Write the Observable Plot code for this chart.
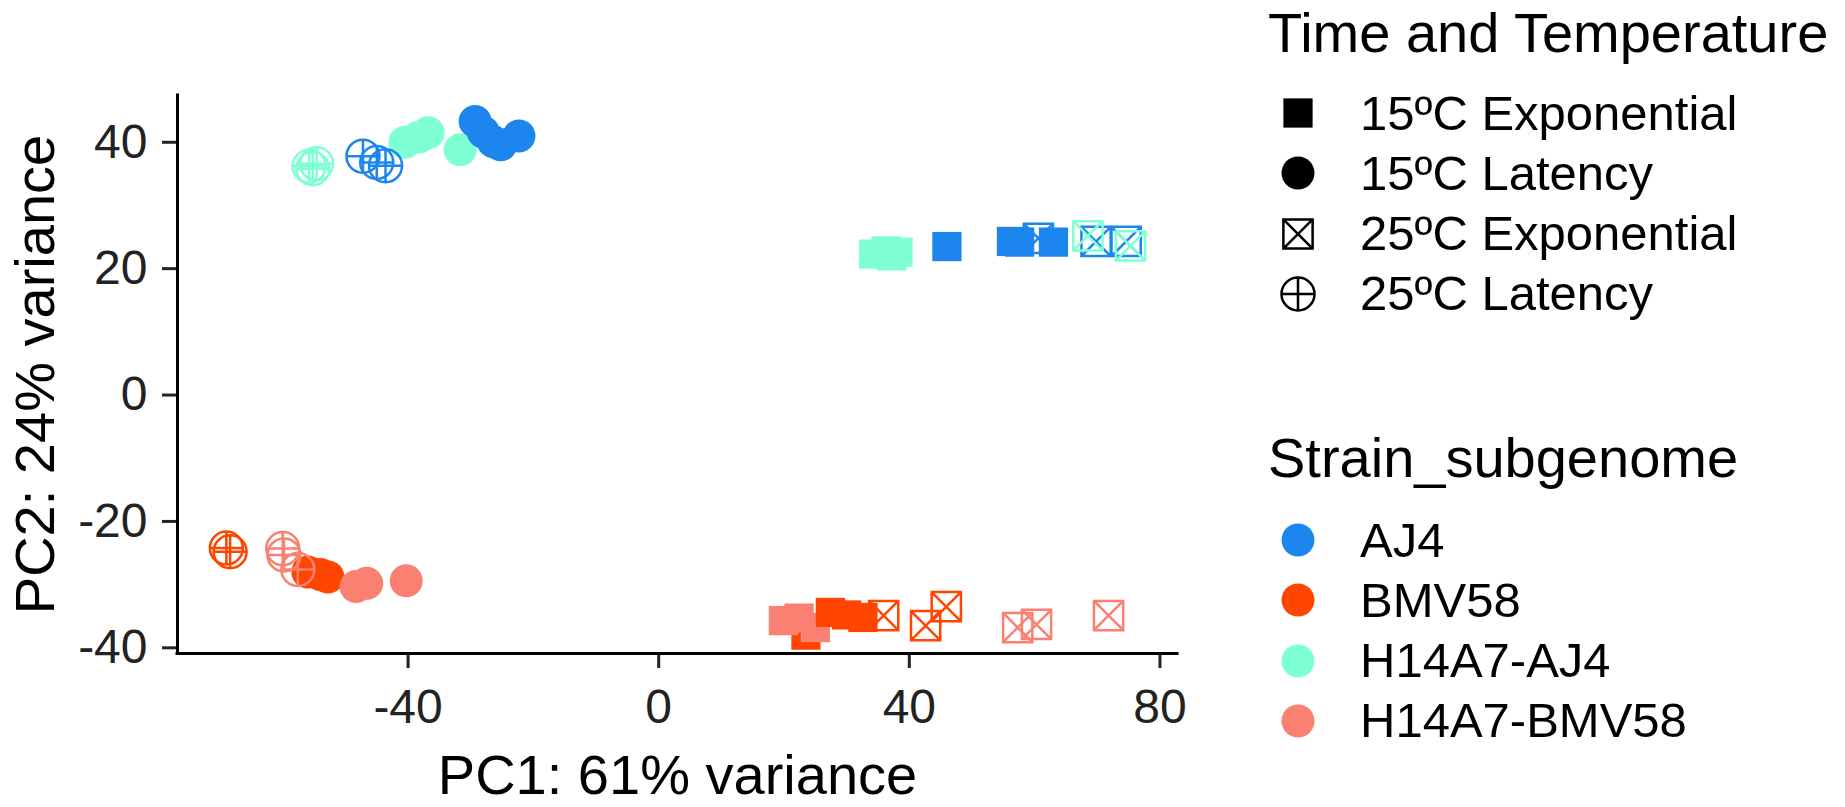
<!DOCTYPE html>
<html>
<head>
<meta charset="utf-8">
<script src="https://cdn.jsdelivr.net/npm/d3@7"></script>
<script src="https://cdn.jsdelivr.net/npm/@observablehq/plot@0.6"></script>
<style>
html, body { margin: 0; padding: 0; background: #fff; }
#wrap { position: relative; width: 1845px; height: 807px; font-family: "Liberation Sans", Arial, sans-serif; color: #000; overflow: hidden; }
#chart { position: absolute; left: 0; top: 0; }
.lg-title { position: absolute; font-size: 56px; line-height: 56px; white-space: nowrap; color: #000; }
.lg-label { position: absolute; font-size: 49px; line-height: 49px; white-space: nowrap; color: #000; }
.lg-key { position: absolute; overflow: visible; }
</style>
</head>
<body>
<div id="wrap"><div id="chart"></div></div>
<script>
// ---- categories ----
const strains = ["AJ4", "BMV58", "H14A7-AJ4", "H14A7-BMV58"];
const strainColors = ["#1C86EE", "#FF4500", "#7FFFD4", "#FA8072"];
const conditions = ["15ºC Exponential", "15ºC Latency", "25ºC Exponential", "25ºC Latency"];
const xTicks = [-40, 0, 40, 80];
const yTicks = [-40, -20, 0, 20, 40];
const xDomain = [-76.8, 82.8];
const yDomain = [-40.9, 47.4];
const xTitle = "PC1: 61% variance";
const yTitle = "PC2: 24% variance";
const shapeTitle = "Time and Temperature";
const colorTitle = "Strain_subgenome";

// ---- samples (drawing order) ----
const sampleStrain = [
  "H14A7-AJ4","H14A7-AJ4","H14A7-AJ4","H14A7-AJ4",
  "AJ4","AJ4","AJ4","AJ4","AJ4",
  "H14A7-AJ4","H14A7-AJ4","H14A7-AJ4","H14A7-AJ4",
  "AJ4","AJ4","AJ4","AJ4",
  "BMV58","BMV58","BMV58",
  "H14A7-BMV58","H14A7-BMV58","H14A7-BMV58",
  "BMV58",
  "H14A7-BMV58","H14A7-BMV58","H14A7-BMV58",
  "BMV58","BMV58","BMV58",
  "AJ4","AJ4","AJ4",
  "H14A7-AJ4","H14A7-AJ4","H14A7-AJ4",
  "AJ4","AJ4","AJ4",
  "H14A7-AJ4","H14A7-AJ4",
  "BMV58","BMV58",
  "H14A7-BMV58","H14A7-BMV58","H14A7-BMV58",
  "BMV58","BMV58","BMV58",
  "H14A7-BMV58","H14A7-BMV58","H14A7-BMV58"
];
const sampleCondition = [
  "15ºC Latency","15ºC Latency","15ºC Latency","15ºC Latency",
  "15ºC Latency","15ºC Latency","15ºC Latency","15ºC Latency","15ºC Latency",
  "15ºC Exponential","15ºC Exponential","15ºC Exponential","15ºC Exponential",
  "15ºC Exponential","15ºC Exponential","15ºC Exponential","15ºC Exponential",
  "15ºC Latency","15ºC Latency","15ºC Latency",
  "15ºC Latency","15ºC Latency","15ºC Latency",
  "15ºC Exponential",
  "15ºC Exponential","15ºC Exponential","15ºC Exponential",
  "15ºC Exponential","15ºC Exponential","15ºC Exponential",
  "25ºC Latency","25ºC Latency","25ºC Latency",
  "25ºC Latency","25ºC Latency","25ºC Latency",
  "25ºC Exponential","25ºC Exponential","25ºC Exponential",
  "25ºC Exponential","25ºC Exponential",
  "25ºC Latency","25ºC Latency",
  "25ºC Latency","25ºC Latency","25ºC Latency",
  "25ºC Exponential","25ºC Exponential","25ºC Exponential",
  "25ºC Exponential","25ºC Exponential","25ºC Exponential"
];
const samplePC1 = [
  -40.5, -38.3, -36.8, -31.7,
  -29.3, -28.0, -26.4, -25.2, -22.3,
  34.3, 36.3, 38.2, 37.2,
  46.0, 56.3, 57.6, 63.0,
  -56.0, -54.0, -52.8,
  -48.3, -46.6, -40.3,
  23.5,
  19.9, 22.4, 25.0,
  27.4, 30.0, 32.6,
  -47.2, -45.0, -43.6,
  -55.8, -54.6, -55.2,
  60.6, 69.8, 74.6,
  68.5, 75.3,
  -69.0, -68.4,
  -60.0, -59.8, -57.6,
  35.9, 42.6, 45.9,
  57.3, 60.3, 71.8
];
const samplePC2 = [
  40.0, 40.8, 41.5, 38.8,
  43.3, 41.6, 40.1, 39.6, 41.0,
  22.3, 22.8, 22.6, 22.0,
  23.5, 24.3, 24.2, 24.2,
  -28.0, -28.4, -28.8,
  -30.3, -29.8, -29.4,
  -38.0,
  -35.7, -35.3, -36.8,
  -34.4, -34.8, -35.2,
  37.8, 36.8, 36.3,
  36.2, 36.6, 35.8,
  24.8, 24.3, 24.3,
  25.2, 23.6,
  -24.2, -24.8,
  -24.3, -25.3, -27.6,
  -34.9, -36.5, -33.5,
  -36.8, -36.3, -34.9
];

const samples = samplePC1.map((v, i) => ({
  pc1: v, pc2: samplePC2[i], strain: sampleStrain[i], condition: sampleCondition[i]
}));

// ---- custom ggplot-like symbols ----
const crossSquare = {
  draw(ctx, size) {
    const s = Math.sqrt(size) / 2;
    ctx.moveTo(-s, -s); ctx.lineTo(s, -s); ctx.lineTo(s, s); ctx.lineTo(-s, s); ctx.closePath();
    ctx.moveTo(-s, -s); ctx.lineTo(s, s);
    ctx.moveTo(s, -s); ctx.lineTo(-s, s);
  }
};
const circlePlus = {
  draw(ctx, size) {
    const r = Math.sqrt(size / Math.PI);
    ctx.moveTo(r, 0); ctx.arc(0, 0, r, 0, 2 * Math.PI);
    ctx.moveTo(-r, 0); ctx.lineTo(r, 0);
    ctx.moveTo(0, -r); ctx.lineTo(0, r);
  }
};
const symbolRange = ["square", "circle", crossSquare, circlePlus];
const filledConds = conditions.slice(0, 2);

const R = 16.5;

const chart = Plot.plot({
  width: 1845,
  height: 807,
  marginLeft: 177,
  marginRight: 668,
  marginTop: 95,
  marginBottom: 154,
  style: { fontFamily: "'Liberation Sans', Arial, sans-serif", background: "#fff", color: "#000" },
  x: { domain: xDomain },
  y: { domain: yDomain },
  color: { domain: strains, range: strainColors },
  symbol: { domain: conditions, range: symbolRange },
  marks: [
    Plot.axisX({ ticks: xTicks, tickSize: 15, tickPadding: 20, fontSize: 48, strokeWidth: 3,
      tickFormat: d => String(d), label: null, color: "#222" }),
    Plot.axisY({ ticks: yTicks, tickSize: 15, tickPadding: 15, fontSize: 48, strokeWidth: 3,
      tickFormat: d => String(d), label: null, color: "#222" }),
    Plot.ruleX([xDomain[0]], { stroke: "#000", strokeWidth: 3, strokeLinecap: "square" }),
    Plot.ruleY([yDomain[0]], { stroke: "#000", strokeWidth: 3, strokeLinecap: "square" }),
    Plot.dot(samples.filter(d => filledConds.includes(d.condition)), {
      x: "pc1", y: "pc2", fill: "strain", symbol: "condition", r: R
    }),
    Plot.dot(samples.filter(d => !filledConds.includes(d.condition)), {
      x: "pc1", y: "pc2", stroke: "strain", fill: "none", symbol: "condition", r: R, strokeWidth: 2.5
    }),
    Plot.text([xTitle], { frameAnchor: "bottom", dy: 123, fontSize: 56, lineAnchor: "middle",
      textAnchor: "middle", fill: "#000" }),
    Plot.text([yTitle], { frameAnchor: "left", dx: -141, rotate: -90, fontSize: 56, lineAnchor: "middle",
      textAnchor: "middle", fill: "#000" })
  ]
});
document.getElementById("chart").appendChild(chart);

// ---- legends (HTML overlay) ----
const wrap = d3.select("#wrap");
const legendX = 1268, keyX = 1298, labelX = 1360, rowStep = 60.3;

function addTitle(text, cy) {
  wrap.append("div").attr("class", "lg-title")
    .style("left", legendX + "px").style("top", (cy - 28) + "px").text(text);
}
function addRow(label, cy, symType, filled, color) {
  const svg = wrap.append("svg").attr("class", "lg-key")
    .attr("width", 50).attr("height", 50)
    .style("left", (keyX - 25) + "px").style("top", (cy - 25) + "px");
  const path = d3.symbol().type(symType).size(Math.PI * R * R)();
  const p = svg.append("path").attr("transform", "translate(25,25)").attr("d", path);
  if (filled) p.attr("fill", color).attr("stroke", "none");
  else p.attr("fill", "none").attr("stroke", color).attr("stroke-width", 2.5);
  wrap.append("div").attr("class", "lg-label")
    .style("left", labelX + "px").style("top", (cy - 24.5) + "px").text(label);
}

addTitle(shapeTitle, 33);
const symTypes = [d3.symbolSquare, d3.symbolCircle, crossSquare, circlePlus];
conditions.forEach((c, i) => addRow(c, 113 + i * rowStep, symTypes[i], i < 2, "#000"));

addTitle(colorTitle, 458);
strains.forEach((s, i) => addRow(s, 540 + i * rowStep, d3.symbolCircle, true, strainColors[i]));
</script>
</body>
</html>
